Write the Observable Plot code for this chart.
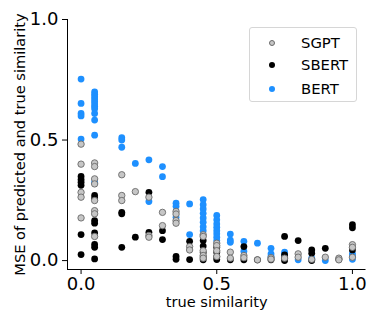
<!DOCTYPE html>
<html>
<head>
<meta charset="utf-8">
<script src="https://cdn.jsdelivr.net/npm/d3@7"></script>
<script src="https://cdn.jsdelivr.net/npm/@observablehq/plot@0.6"></script>
<style>
  html, body { margin: 0; padding: 0; background: white; }
  #wrap { position: relative; width: 369px; height: 312px; font-family: "DejaVu Sans", sans-serif; }
  #legend { position: absolute; left: 249px; top: 27px; width: 108px; height: 75px; box-sizing: border-box;
            border: 1px solid #d6d6d6; border-radius: 3px; background: rgba(255,255,255,0.85); }
  .row { position: absolute; left: 0; height: 20px; line-height: 20px; font-size: 14.8px; color: black; }
  .row span.m { position: absolute; left: 19px; top: 7px; width: 6px; height: 6px; border-radius: 50%; box-sizing: border-box; }
  .row span.t { position: absolute; left: 51px; white-space: nowrap; }
</style>
</head>
<body>
<div id="wrap"><div id="legend"></div></div>
<script>
// ---- data ----
const seriesNames = ["SGPT", "SBERT", "BERT"];
const xTicks = [0, 0.5, 1.0];
const yTicks = [0, 0.5, 1.0];
const xLabel = "true similarity";
const yLabel = "MSE of predicted and true similarity";

const bertX = [0,0,0,0,0,
  0.05,0.05,0.05,0.05,0.05,0.05,0.05,0.05,0.05,0.05,0.05,0.05,
  0.15,0.15,0.15, 0.2, 0.25,0.25, 0.3,0.3, 0.35,0.35,0.35, 0.4,0.4,
  0.45,0.45,0.45,0.45,0.45,0.45,0.45,0.45,
  0.5,0.5,0.5,0.5,0.5,0.5,0.5,0.5,
  0.55,0.55,0.55, 0.6,0.6, 0.65, 0.7,0.7,0.7, 0.75,0.75, 0.8, 0.85,0.85, 0.9, 1.0,1.0,1.0];
const bertY = [0.753,0.652,0.61,0.60,0.504,
  0.70,0.69,0.68,0.67,0.66,0.65,0.64,0.63,0.61,0.583,0.52,0.325,
  0.51,0.50,0.47, 0.403, 0.418,0.245, 0.39,0.348, 0.238,0.225,0.18, 0.235,0.108,
  0.253,0.232,0.214,0.196,0.177,0.159,0.14,0.124,
  0.187,0.169,0.152,0.138,0.124,0.111,0.097,0.083,
  0.11,0.085,0.076, 0.08,0.039, 0.072, 0.051,0.028,0.017, 0.035,0.025, 0.003, 0.01,0.003, 0.0, 0.028,0.02,0.005];

const sbertX = [0,0,0,0,0,0,
  0.05,0.05,0.05,0.05,0.05,0.05,0.05,0.05,
  0.15,0.15,0.15, 0.2, 0.25,0.25, 0.3,0.3, 0.35,0.35, 0.4,0.4,
  0.45,0.45,0.45,0.45,0.45, 0.5,0.5,0.5,0.5, 0.55, 0.6,0.6, 0.65, 0.7,
  0.75,0.75,0.75,0.75, 0.8, 0.85,0.85,0.85, 0.9, 0.95, 1.0,1.0,1.0];
const sbertY = [0.349,0.336,0.325,0.312,0.108,0.025,
  0.27,0.258,0.166,0.155,0.115,0.067,0.055,0.007,
  0.2,0.194,0.055, 0.097, 0.283,0.117, 0.124,0.087, 0.017,0.005, 0.08,0.004,
  0.083,0.06,0.033,0.015,0.003, 0.055,0.035,0.015,0.004, 0.003, 0.058,0.003, 0.003, 0.003,
  0.1,0.024,0.01,0.0, 0.083, 0.044,0.03,0.0, 0.051, 0.005, 0.149,0.136,0.044];

const sgptX = [0,0,0,0,0,
  0.05,0.05,0.05,0.05,0.05,0.05,0.05,0.05,
  0.15,0.15,0.15, 0.2, 0.25,0.25,0.25, 0.3,0.3, 0.35,0.35,0.35,0.35, 0.4,0.4,
  0.45,0.45,0.45,0.45,0.45, 0.5,0.5,0.5,0.5, 0.55,0.55, 0.6,0.6, 0.65, 0.7,0.7,
  0.75, 0.8,0.8, 0.85, 0.9, 0.95,0.95, 1.0,1.0,1.0];
const sgptY = [0.483,0.40,0.283,0.263,0.177,
  0.405,0.39,0.339,0.318,0.249,0.207,0.194,0.1,
  0.356,0.27,0.249, 0.286, 0.263,0.104,0.097, 0.2,0.145, 0.204,0.193,0.166,0.155, 0.058,0.044,
  0.107,0.1,0.041,0.021,0.01, 0.072,0.062,0.041,0.017, 0.035,0.01, 0.021,0.012, 0.003, 0.012,0.006,
  0.01, 0.028,0.014, 0.005, 0.014, 0.01,0.003, 0.066,0.055,0.014];

const xDomain = [-0.05, 1.05];
const yDomain = [-0.037, 1.0];

const colors = {SGPT: "#c6c6c6", SBERT: "#000000", BERT: "#1e90ff"};
const sgptEdge = "#6a6a6a";

const toRows = (xs, ys) => xs.map((x, i) => ({x, y: ys[i]}));
const bert = toRows(bertX, bertY);
const sbert = toRows(sbertX, sbertY);
const sgpt = toRows(sgptX, sgptY);

const fmt = d3.format(".1f");
const chart = Plot.plot({
  width: 369, height: 312,
  marginLeft: 67, marginRight: 3.5, marginTop: 19, marginBottom: 43,
  style: {fontFamily: "DejaVu Sans", background: "white", color: "black", overflow: "visible"},
  x: {domain: xDomain},
  y: {domain: yDomain},
  marks: [
    Plot.ruleX([xDomain[0]], {stroke: "black", strokeWidth: 1}),
    Plot.ruleY([yDomain[0]], {stroke: "black", strokeWidth: 1}),
    Plot.axisX({ticks: xTicks, tickFormat: fmt, tickSize: 5, tickPadding: 3, fontSize: 18, label: null}),
    Plot.axisY({ticks: yTicks, tickFormat: fmt, tickSize: 5, tickPadding: 4, fontSize: 18, label: null}),
    Plot.text([xLabel], {frameAnchor: "bottom", lineAnchor: "middle", textAnchor: "middle", dy: 33, fontSize: 14.6}),
    Plot.text([yLabel], {frameAnchor: "left", lineAnchor: "middle", textAnchor: "middle", dx: -47, rotate: -90, fontSize: 14.6}),
    Plot.dot(bert, {x: "x", y: "y", r: 3.4, fill: colors.BERT, stroke: "none"}),
    Plot.dot(sbert, {x: "x", y: "y", r: 3.4, fill: colors.SBERT, stroke: "none"}),
    Plot.dot(sgpt, {x: "x", y: "y", r: 3.2, fill: colors.SGPT, stroke: sgptEdge, strokeWidth: 0.9})
  ]
});
const wrap = document.getElementById("wrap");
wrap.insertBefore(chart, wrap.firstChild);

const legend = document.getElementById("legend");
const rowCenters = [14.7, 37, 61];
seriesNames.forEach((name, i) => {
  const row = document.createElement("div");
  row.className = "row";
  row.style.top = (rowCenters[i] - 10) + "px";
  const m = document.createElement("span");
  m.className = "m";
  m.style.background = colors[name];
  if (name === "SGPT") m.style.border = "1px solid " + sgptEdge;
  const t = document.createElement("span");
  t.className = "t";
  t.textContent = name;
  row.appendChild(m); row.appendChild(t);
  legend.appendChild(row);
});
</script>
</body>
</html>
